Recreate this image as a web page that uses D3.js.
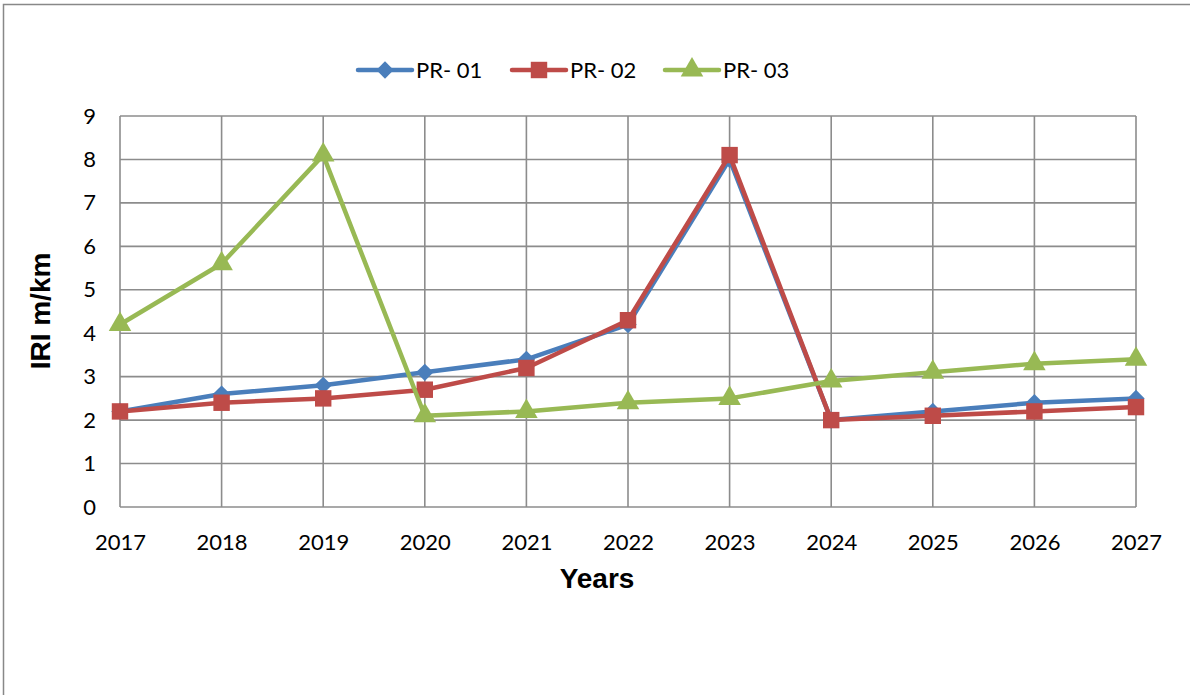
<!DOCTYPE html>
<html>
<head>
<meta charset="utf-8">
<script src="https://cdn.jsdelivr.net/npm/d3@7"></script>
<style>
  html, body { margin: 0; padding: 0; background: #fff; }
  svg { display: block; }
</style>
</head>
<body>
<svg id="chart" width="1190" height="695"></svg>
<script>
// IRI roughness forecast per road section
const years = [2017, 2018, 2019, 2020, 2021, 2022, 2023, 2024, 2025, 2026, 2027];
const pr01 = [2.2, 2.6, 2.8, 3.1, 3.4, 4.2, 8.0, 2.0, 2.2, 2.4, 2.5];
const pr02 = [2.2, 2.4, 2.5, 2.7, 3.2, 4.3, 8.1, 2.0, 2.1, 2.2, 2.3];
const pr03 = [4.2, 5.6, 8.1, 2.1, 2.2, 2.4, 2.5, 2.9, 3.1, 3.3, 3.4];
const seriesNames = ["PR- 01", "PR- 02", "PR- 03"];
const yTicks = [0, 1, 2, 3, 4, 5, 6, 7, 8, 9];

const series = [
  { name: seriesNames[0], values: pr01, color: "#4A7EBB", symbol: d3.symbolSquare, size: 150, rot: 45 },
  { name: seriesNames[1], values: pr02, color: "#BE4B48", symbol: d3.symbolSquare, size: 270, rot: 0 },
  { name: seriesNames[2], values: pr03, color: "#98B954", symbol: d3.symbolTriangle, size: 220, rot: 0 }
];

const svg = d3.select("#chart");
const plot = { left: 120, right: 1136, top: 116, bottom: 507 };

// outer chart frame (runs off the right and bottom edges)
svg.append("rect")
  .attr("x", 3.5).attr("y", 4.5)
  .attr("width", 1300).attr("height", 800)
  .attr("fill", "none").attr("stroke", "#888").attr("stroke-width", 1.5);

const x = d3.scalePoint().domain(years).range([plot.left, plot.right]);
const y = d3.scaleLinear().domain([0, 9]).range([plot.bottom, plot.top]);

const tickFont = "Lato, 'Open Sans', sans-serif";

// gridlines
const grid = svg.append("g").attr("stroke", "#8c8c8c").attr("stroke-width", 1.6);
grid.selectAll("line.h").data(yTicks).join("line")
  .attr("x1", plot.left).attr("x2", plot.right)
  .attr("y1", d => y(d)).attr("y2", d => y(d));
grid.selectAll("line.v").data(years).join("line")
  .attr("y1", plot.top).attr("y2", plot.bottom)
  .attr("x1", d => x(d)).attr("x2", d => x(d));

// y axis labels
const yAxis = svg.append("g")
  .attr("transform", `translate(${plot.left},0)`)
  .call(d3.axisLeft(y).tickValues(yTicks).tickSize(0).tickPadding(24));
yAxis.select(".domain").remove();
yAxis.selectAll("text").attr("font-family", tickFont).attr("font-size", 22).attr("fill", "#000");

// x axis labels
const xAxis = svg.append("g")
  .attr("transform", `translate(0,${plot.bottom})`)
  .call(d3.axisBottom(x).tickSize(0).tickPadding(27));
xAxis.select(".domain").remove();
xAxis.selectAll("text").attr("font-family", tickFont).attr("font-size", 22).attr("fill", "#000");

// axis titles
svg.append("text")
  .attr("x", (plot.left + plot.right) / 2 - 31).attr("y", 588)
  .attr("text-anchor", "middle")
  .attr("font-family", "'Liberation Sans', Arial, sans-serif")
  .attr("font-weight", "bold").attr("font-size", 28)
  .text("Years");
svg.append("text")
  .attr("transform", "translate(50,311) rotate(-90)")
  .attr("text-anchor", "middle")
  .attr("font-family", "'Liberation Sans', Arial, sans-serif")
  .attr("font-weight", "bold").attr("font-size", 28)
  .text("IRI m/km");

// lines and markers
const line = d3.line().x((d, i) => x(years[i])).y(d => y(d));
series.forEach(s => {
  const g = svg.append("g");
  g.append("path")
    .datum(s.values)
    .attr("d", line)
    .attr("fill", "none")
    .attr("stroke", s.color)
    .attr("stroke-width", 4.5)
    .attr("stroke-linejoin", "round");
  g.selectAll("path.m").data(s.values).join("path")
    .attr("class", "m")
    .attr("d", d3.symbol().type(s.symbol).size(s.size))
    .attr("transform", (d, i) => `translate(${x(years[i])},${y(d)}) rotate(${s.rot})`)
    .attr("fill", s.color);
});

// legend
const legendX = [358, 512, 665];
const legend = svg.append("g");
series.forEach((s, i) => {
  const lg = legend.append("g").attr("transform", `translate(${legendX[i]},70)`);
  lg.append("line").attr("x1", 0).attr("x2", 54).attr("y1", 0).attr("y2", 0)
    .attr("stroke", s.color).attr("stroke-width", 4.5).attr("stroke-linecap", "round");
  lg.append("path")
    .attr("d", d3.symbol().type(s.symbol).size(s.size))
    .attr("transform", `translate(27,0) rotate(${s.rot})`)
    .attr("fill", s.color);
  lg.append("text")
    .attr("x", 58).attr("y", 8)
    .attr("font-family", tickFont).attr("font-size", 22)
    .text(s.name);
});
</script>
</body>
</html>
